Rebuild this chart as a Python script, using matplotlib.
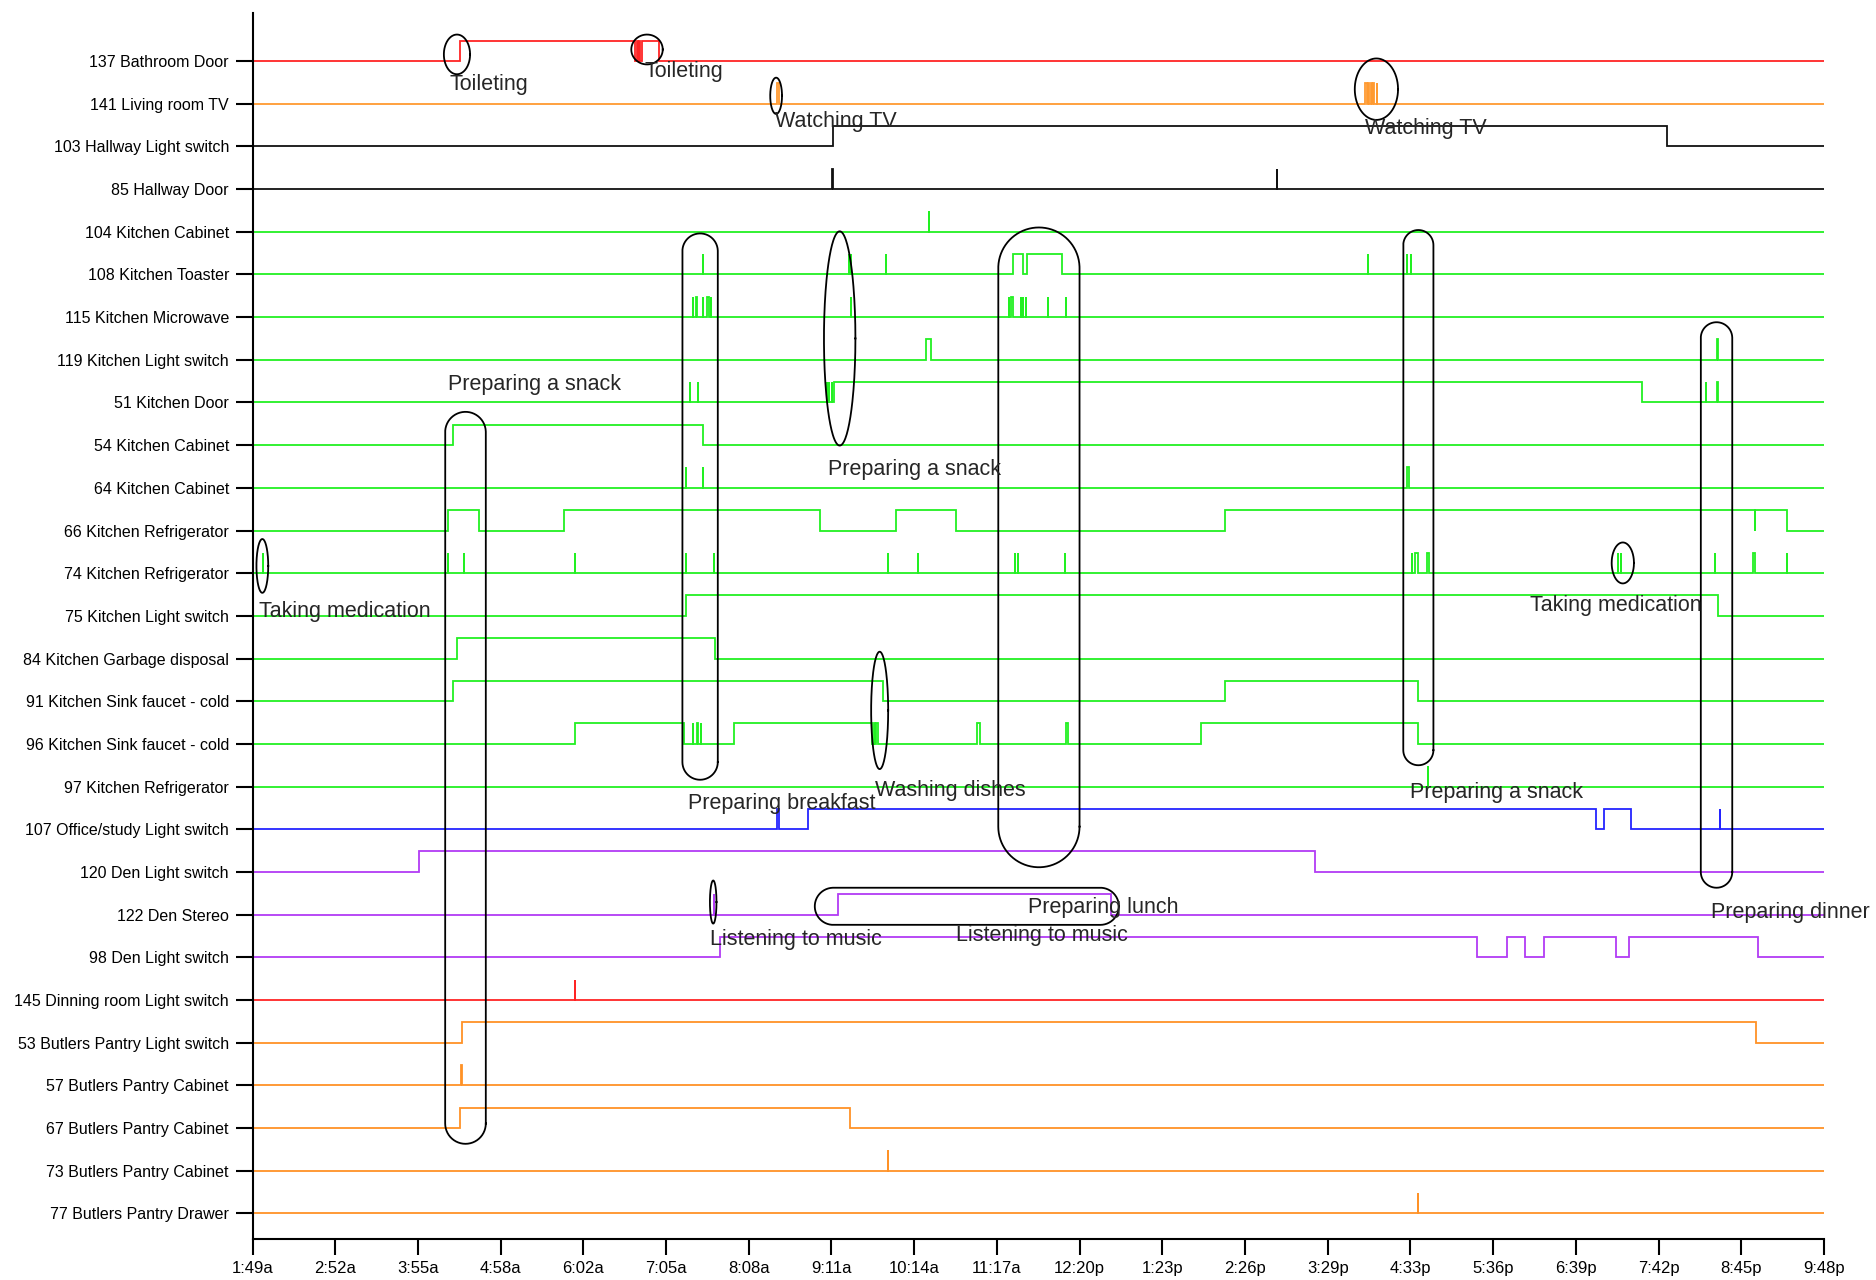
import numpy as np
import matplotlib
matplotlib.use('Agg')
import matplotlib.pyplot as plt

plt.rcParams['font.family'] = ['Liberation Sans', 'DejaVu Sans']


def hours(s):
	h, m = s.split(':')
	return int(h) + int(m) / 60.0


day_start, day_end = '1:49', '21:48'
tick_labels = ['1:49a', '2:52a', '3:55a', '4:58a', '6:02a', '7:05a', '8:08a', '9:11a', '10:14a',
	'11:17a', '12:20p', '1:23p', '2:26p', '3:29p', '4:33p', '5:36p', '6:39p', '7:42p', '8:45p', '9:48p']

sensors = ['137 Bathroom Door', '141 Living room TV', '103 Hallway Light switch', '85 Hallway Door',
	'104 Kitchen Cabinet', '108 Kitchen Toaster', '115 Kitchen Microwave', '119 Kitchen Light switch',
	'51 Kitchen Door', '54 Kitchen Cabinet', '64 Kitchen Cabinet', '66 Kitchen Refrigerator',
	'74 Kitchen Refrigerator', '75 Kitchen Light switch', '84 Kitchen Garbage disposal',
	'91 Kitchen Sink faucet - cold', '96 Kitchen Sink faucet - cold', '97 Kitchen Refrigerator',
	'107 Office/study Light switch', '120 Den Light switch', '122 Den Stereo', '98 Den Light switch',
	'145 Dinning room Light switch', '53 Butlers Pantry Light switch', '57 Butlers Pantry Cabinet',
	'67 Butlers Pantry Cabinet', '73 Butlers Pantry Cabinet', '77 Butlers Pantry Drawer']

rooms = ['bath', 'living', 'hall', 'hall'] + ['kitchen'] * 14 + ['office', 'den', 'den', 'den',
	'dining', 'pantry', 'pantry', 'pantry', 'pantry', 'pantry']

# (on, off) clock times per sensor, same on/off = a single firing
on_periods = [
	[('4:27', '6:41'), ('6:42', '6:43'), ('6:44', '6:45'), ('6:46', '6:59')],
	[('8:29', '8:31'), ('15:58', '15:59'), ('16:00', '16:01'), ('16:02', '16:03'), ('16:04', '16:05'),
		('16:07', '16:07')],
	[('9:12', '19:48')],
	[('9:11', '9:12'), ('14:51', '14:51')],
	[('10:25', '10:25')],
	[('7:33', '7:33'), ('9:24', '9:24'), ('9:26', '9:26'), ('9:52', '9:52'), ('11:29', '11:37'),
		('11:40', '12:07'), ('16:00', '16:00'), ('16:30', '16:30'), ('16:33', '16:33')],
	[('7:25', '7:25'), ('7:27', '7:28'), ('7:33', '7:33'), ('7:36', '7:37'), ('7:39', '7:39'),
		('9:26', '9:26'), ('11:26', '11:26'), ('11:28', '11:29'), ('11:35', '11:35'), ('11:37', '11:37'),
		('11:39', '11:39'), ('11:56', '11:56'), ('12:10', '12:10')],
	[('10:23', '10:27'), ('20:26', '20:27')],
	[('7:23', '7:23'), ('7:29', '7:29'), ('9:07', '9:07'), ('9:09', '9:09'), ('9:11', '9:11'),
		('9:13', '19:29'), ('20:18', '20:18'), ('20:26', '20:27')],
	[('4:22', '7:33')],
	[('7:20', '7:20'), ('7:33', '7:33'), ('16:30', '16:31')],
	[('4:18', '4:42'), ('5:47', '9:02'), ('10:00', '10:46'), ('14:11', '20:55'), ('20:55', '21:20')],
	[('1:57', '1:57'), ('4:18', '4:18'), ('4:30', '4:30'), ('5:55', '5:55'), ('7:20', '7:20'),
		('7:41', '7:41'), ('9:54', '9:54'), ('10:17', '10:17'), ('11:31', '11:31'), ('11:33', '11:33'),
		('12:09', '12:09'), ('16:34', '16:34'), ('16:36', '16:38'), ('16:45', '16:47'), ('19:11', '19:11'),
		('19:13', '19:13'), ('20:25', '20:25'), ('20:54', '20:55'), ('21:20', '21:20')],
	[('7:20', '20:27')],
	[('4:25', '7:42')],
	[('4:22', '9:50'), ('14:11', '16:38')],
	[('5:55', '7:18'), ('7:25', '7:25'), ('7:28', '7:29'), ('7:31', '7:31'), ('7:56', '9:42'),
		('9:43', '9:44'), ('9:45', '9:46'), ('11:02', '11:04'), ('12:10', '12:11'), ('13:53', '16:38')],
	[('16:46', '16:46')],
	[('8:29', '8:31'), ('8:53', '18:54'), ('19:00', '19:21'), ('20:29', '20:29')],
	[('3:56', '15:20')],
	[('7:41', '7:41'), ('9:16', '12:44')],
	[('7:46', '17:23'), ('17:46', '18:00'), ('18:14', '19:09'), ('19:19', '20:58')],
	[('5:55', '5:55')],
	[('4:29', '20:56')],
	[('4:28', '4:29')],
	[('4:27', '9:25')],
	[('9:54', '9:54')],
	[('16:38', '16:38')],
]

# circled activities: time span, row span (0 = top row), and where the label sits
activities = ['Toileting', 'Toileting', 'Watching TV', 'Watching TV', 'Preparing a snack',
	'Preparing breakfast', 'Preparing a snack', 'Preparing lunch', 'Preparing a snack',
	'Preparing dinner', 'Taking medication', 'Taking medication', 'Washing dishes',
	'Listening to music', 'Listening to music']
act_start = ['4:15', '6:38', '8:24', '15:50', '4:16', '7:17', '9:05', '11:18', '16:27', '20:14',
	'1:52', '19:06', '9:41', '7:38', '8:58']
act_end = ['4:35', '7:02', '8:33', '16:23', '4:47', '7:44', '9:29', '12:20', '16:50', '20:38',
	'2:01', '19:23', '9:54', '7:43', '12:50']
act_top = [-0.62, -0.62, 0.39, -0.06, 8.22, 4.04, 3.99, 3.90, 3.96, 6.12, 11.20, 11.28, 13.84, 19.20, 19.37]
act_bottom = [0.31, 0.08, 1.24, 1.38, 25.37, 16.84, 9.01, 18.89, 16.50, 19.37, 12.46, 12.24, 16.59, 20.21, 20.24]
label_time = ['4:19', '6:48', '8:28', '15:58', '4:18', '7:21', '9:08', '11:41', '16:32', '20:22',
	'1:54', '18:04', '9:44', '7:38', '10:46']
label_row = [0.67, 0.37, 1.54, 1.70, 7.70, 17.53, 9.71, 19.96, 17.26, 20.07, 13.03, 12.89, 17.22, 20.70, 20.62]

room_colors = {'bath': '#ff2424', 'living': '#ff9a30', 'hall': '#111111', 'kitchen': '#22f022',
	'office': '#2424ff', 'den': '#b23cf5', 'dining': '#ff2424', 'pantry': '#ff9226'}

fig = plt.figure(figsize=(18.76, 12.8), dpi=100)
ax = fig.add_axes([252.5 / 1876, 1 - 1239 / 1280, (1824 - 252.5) / 1876, (1239 - 12.7) / 1280])

x0, x1 = hours(day_start), hours(day_end)
y_bottom, y_top = 27.60, -1.132
high = 0.48

for i, (room, periods) in enumerate(zip(rooms, on_periods)):
	xs, ys = [x0], [i]
	for a, b in periods:
		a, b = hours(a), hours(b)
		xs += [a, a, b, b]
		ys += [i, i - high, i - high, i]
	xs.append(x1)
	ys.append(i)
	ax.plot(xs, ys, color=room_colors[room], lw=1.3, solid_joinstyle='miter', zorder=2)

ax.set_xlim(x0, x1)
ax.set_ylim(y_bottom, y_top)

# outline around each activity, drawn in pixel proportions:
# plain ellipse for short ones, capsule for the long ones
W, H = fig.get_size_inches() * fig.dpi
pos = ax.get_position()
kx = pos.width * W / (x1 - x0)
ky = pos.height * H / (y_bottom - y_top)


def blob(t0, t1, r0, r1):
	cx, cy = (t0 + t1) / 2, (r0 + r1) / 2
	a, b = (t1 - t0) / 2 * kx, (r1 - r0) / 2 * ky
	if max(a, b) / min(a, b) < 7.5:
		th = np.linspace(0, 2 * np.pi, 200)
		return cx + a * np.cos(th) / kx, cy + b * np.sin(th) / ky
	r = min(a, b)
	px, py = [], []
	for q in range(4):
		th = np.linspace(q * np.pi / 2, (q + 1) * np.pi / 2, 40)
		mid = (q + 0.5) * np.pi / 2
		ccx = np.sign(np.cos(mid)) * (a - r)
		ccy = np.sign(np.sin(mid)) * (b - r)
		px += list(ccx + r * np.cos(th))
		py += list(ccy + r * np.sin(th))
	px.append(px[0])
	py.append(py[0])
	return cx + np.array(px) / kx, cy + np.array(py) / ky


for name, s, e, top, bot, lt, lr in zip(activities, act_start, act_end, act_top, act_bottom,
		label_time, label_row):
	bx, by = blob(hours(s), hours(e), top, bot)
	ax.plot(bx, by, color='black', lw=1.3, zorder=3, clip_on=False)
	ax.text(hours(lt), lr, name, fontsize=15.5, color='#262626', ha='left', va='baseline', zorder=4)

ax.set_yticks(range(len(sensors)))
ax.set_yticklabels(sensors)
ax.set_xticks(np.linspace(x0, x1, len(tick_labels)))
ax.set_xticklabels(tick_labels)
ax.tick_params(axis='y', length=12, width=1.5, pad=5, labelsize=11.5, direction='out')
ax.tick_params(axis='x', length=11.5, width=1.5, pad=4, labelsize=12, direction='out')
for side in ['top', 'right']:
	ax.spines[side].set_visible(False)
for side in ['left', 'bottom']:
	ax.spines[side].set_linewidth(1.5)
	ax.spines[side].set_color('black')

plt.savefig('out.png', dpi=100)
